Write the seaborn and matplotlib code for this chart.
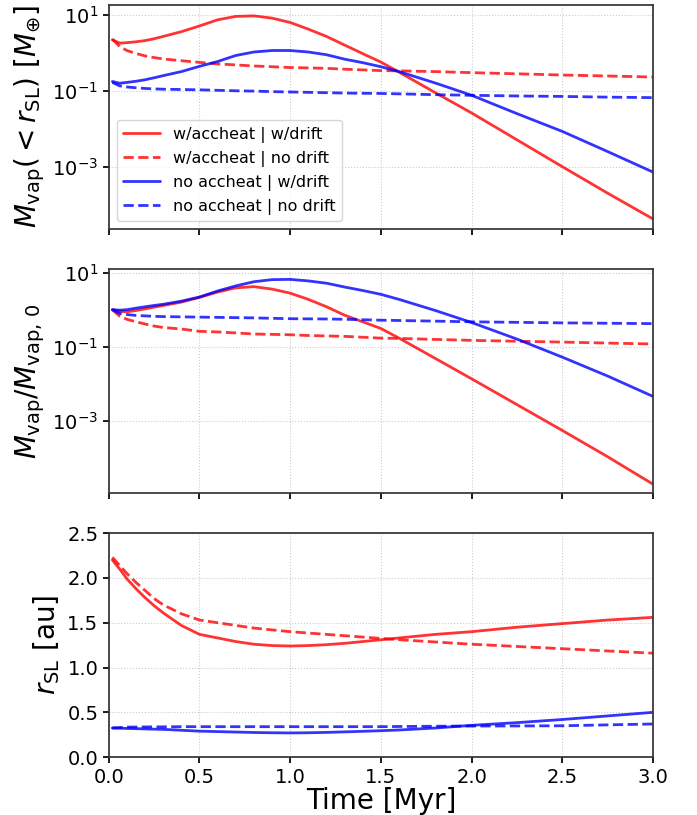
import matplotlib
matplotlib.use("Agg")
import matplotlib.pyplot as plt
from matplotlib.ticker import NullLocator
import seaborn as sns

# time grid (Myr) shared by all runs
time = [0.02, 0.06, 0.1, 0.15, 0.2, 0.25, 0.3, 0.4, 0.5, 0.6, 0.7, 0.8, 0.9, 1.0,
        1.1, 1.2, 1.3, 1.4, 1.5, 1.6, 1.8, 2.0, 2.25, 2.5, 2.75, 3.0]

runs = ["w/accheat | w/drift", "w/accheat | no drift",
        "no accheat | w/drift", "no accheat | no drift"]
colors = ["#ff0000", "#ff0000", "#0000ff", "#0000ff"]
styles = ["-", "--", "-", "--"]

# vapour mass inside the snow line [M_earth]
mvap_acc_drift = [2.2, 1.8, 1.85, 1.95, 2.1, 2.35, 2.7, 3.6, 5.1, 7.4, 9.1, 9.4, 8.2, 6.3,
                  4.2, 2.7, 1.6, 0.95, 0.57, 0.31, 0.089, 0.026, 5.1e-3, 1.0e-3, 2.0e-4, 4.2e-5]
mvap_acc_nodrift = [2.3, 1.47, 1.15, 0.96, 0.83, 0.75, 0.69, 0.62, 0.56, 0.51, 0.48, 0.45, 0.43, 0.41,
                    0.40, 0.39, 0.37, 0.355, 0.34, 0.335, 0.32, 0.30, 0.28, 0.26, 0.245, 0.23]
mvap_noacc_drift = [0.176, 0.158, 0.166, 0.178, 0.195, 0.22, 0.25, 0.32, 0.44, 0.59, 0.85, 1.05, 1.15, 1.15,
                    1.05, 0.89, 0.68, 0.55, 0.43, 0.32, 0.16, 0.076, 0.025, 8.5e-3, 2.5e-3, 7.2e-4]
mvap_noacc_nodrift = [0.166, 0.135, 0.126, 0.12, 0.115, 0.112, 0.11, 0.108, 0.106, 0.103, 0.10, 0.098, 0.095, 0.093,
                      0.091, 0.089, 0.087, 0.086, 0.085, 0.083, 0.079, 0.076, 0.073, 0.071, 0.068, 0.066]

# vapour mass normalised to initial value
ratio_acc_drift = [1.0, 0.9, 0.88, 0.95, 1.05, 1.17, 1.3, 1.6, 2.15, 3.0, 3.9, 4.2, 3.6, 2.8,
                   1.9, 1.2, 0.71, 0.47, 0.31, 0.17, 0.048, 0.0135, 2.7e-3, 5.4e-4, 1.05e-4, 1.9e-5]
ratio_acc_nodrift = [1.0, 0.67, 0.55, 0.47, 0.41, 0.36, 0.33, 0.30, 0.26, 0.25, 0.235, 0.22, 0.215, 0.21,
                     0.20, 0.195, 0.19, 0.18, 0.17, 0.167, 0.157, 0.148, 0.14, 0.133, 0.125, 0.118]
ratio_noacc_drift = [1.0, 0.97, 1.0, 1.1, 1.2, 1.3, 1.4, 1.7, 2.2, 3.2, 4.4, 5.7, 6.5, 6.6,
                     6.0, 5.2, 4.1, 3.3, 2.6, 1.9, 0.95, 0.45, 0.16, 0.052, 0.016, 4.5e-3]
ratio_noacc_nodrift = [1.0, 0.79, 0.74, 0.70, 0.68, 0.66, 0.65, 0.64, 0.63, 0.62, 0.61, 0.60, 0.585, 0.57,
                       0.565, 0.56, 0.55, 0.535, 0.52, 0.51, 0.49, 0.47, 0.455, 0.44, 0.43, 0.42]

# snow line radius [au]
rsl_acc_drift = [2.20, 2.10, 1.99, 1.88, 1.78, 1.69, 1.61, 1.47, 1.37, 1.33, 1.29, 1.26, 1.245, 1.24,
                 1.245, 1.255, 1.27, 1.29, 1.31, 1.33, 1.37, 1.40, 1.45, 1.49, 1.53, 1.56]
rsl_acc_nodrift = [2.23, 2.14, 2.05, 1.95, 1.86, 1.77, 1.70, 1.60, 1.53, 1.50, 1.47, 1.44, 1.42, 1.40,
                   1.385, 1.37, 1.355, 1.34, 1.325, 1.31, 1.285, 1.26, 1.235, 1.21, 1.185, 1.16]
rsl_noacc_drift = [0.325, 0.323, 0.32, 0.318, 0.315, 0.312, 0.31, 0.30, 0.29, 0.285, 0.28, 0.275, 0.272, 0.27,
                   0.272, 0.276, 0.282, 0.288, 0.295, 0.303, 0.325, 0.355, 0.385, 0.42, 0.46, 0.50]
rsl_noacc_nodrift = [0.325, 0.33, 0.335, 0.336, 0.337, 0.338, 0.338, 0.34, 0.34, 0.34, 0.34, 0.34, 0.34, 0.34,
                     0.34, 0.34, 0.34, 0.34, 0.34, 0.342, 0.345, 0.347, 0.348, 0.35, 0.36, 0.37]

panels = [
    [mvap_acc_drift, mvap_acc_nodrift, mvap_noacc_drift, mvap_noacc_nodrift],
    [ratio_acc_drift, ratio_acc_nodrift, ratio_noacc_drift, ratio_noacc_nodrift],
    [rsl_acc_drift, rsl_acc_nodrift, rsl_noacc_drift, rsl_noacc_nodrift],
]
ylabels = [r"$M_{\rm vap}(<r_{\rm SL})$ [$M_{\oplus}$]",
           r"$M_{\rm vap}/M_{\rm vap,\,0}$",
           r"$r_{\rm SL}$ [au]"]

sns.set_theme(style="whitegrid", rc={
    "axes.edgecolor": "0.2",
    "grid.linestyle": ":",
    "grid.color": "0.8",
    "grid.linewidth": 0.8,
    "xtick.bottom": True,
    "ytick.left": True,
    "xtick.major.size": 4,
    "ytick.major.size": 4,
    "xtick.color": "black",
    "ytick.color": "black",
    "text.color": "black",
    "axes.labelcolor": "black",
})
plt.rcParams["font.family"] = ["DejaVu Sans"]

fig, axes = plt.subplots(3, 1, figsize=(6.97, 8.15), dpi=100, sharex=True)
fig.subplots_adjust(left=0.156, right=0.937, top=0.994, bottom=0.071, hspace=0.179)

for ax, series, ylab in zip(axes, panels, ylabels):
    for vals, lab, c, ls in zip(series, runs, colors, styles):
        sns.lineplot(x=time, y=vals, ax=ax, color=c, linestyle=ls,
                     lw=2, alpha=0.8, label=lab)
    ax.set_ylabel(ylab, fontsize=20)
    ax.tick_params(labelsize=14)
    ax.set_xlim(0, 3)

# log panels
axes[0].set_yscale("log")
axes[0].set_ylim(2.3e-5, 18.3)
axes[1].set_yscale("log")
axes[1].set_ylim(1.1e-5, 12.6)
for ax in axes[:2]:
    ax.set_yticks([1e1, 1e-1, 1e-3])
    ax.yaxis.set_minor_locator(NullLocator())

axes[2].set_ylim(0, 2.5)
axes[2].set_yticks([0.0, 0.5, 1.0, 1.5, 2.0, 2.5])
axes[2].set_xticks([0.0, 0.5, 1.0, 1.5, 2.0, 2.5, 3.0])
axes[2].set_xlabel("Time [Myr]", fontsize=20, labelpad=0)

axes[0].legend(loc="lower left", fontsize=11.5, handlelength=2.3)
axes[1].get_legend().remove()
axes[2].get_legend().remove()

fig.savefig("out.png", dpi=100)
